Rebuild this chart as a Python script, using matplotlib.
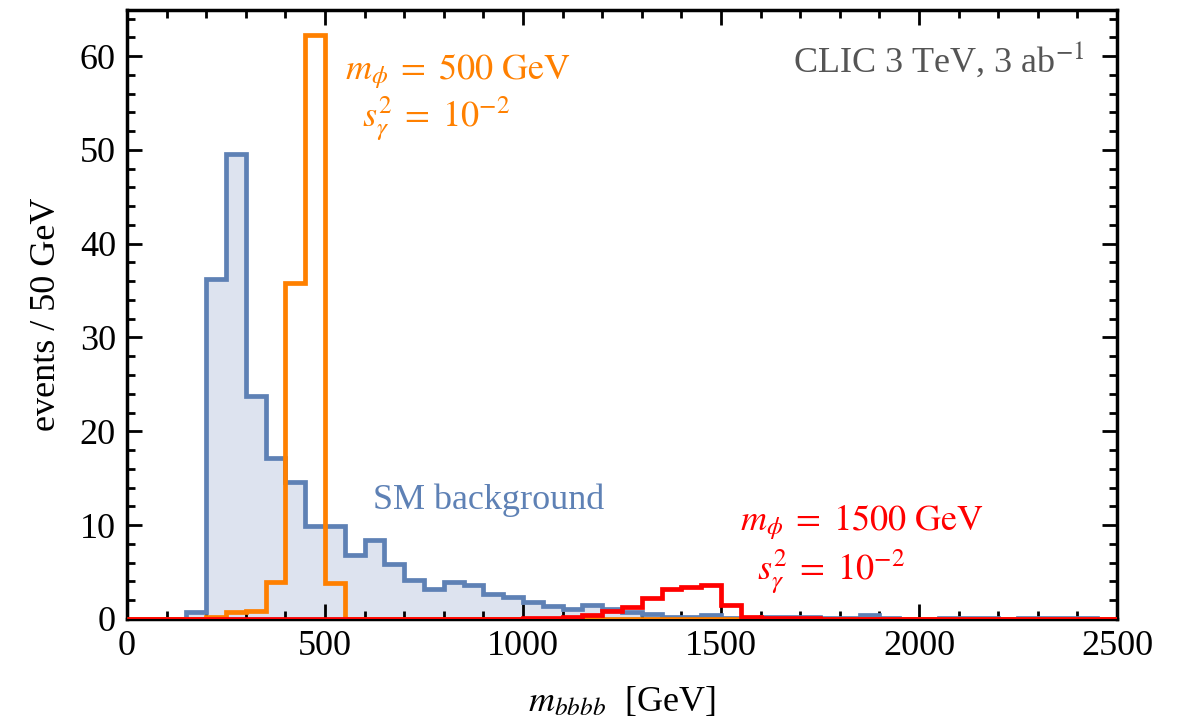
import numpy as np
import matplotlib
matplotlib.use("Agg")
import matplotlib.pyplot as plt
from matplotlib.ticker import MultipleLocator

plt.rcParams['font.family'] = ['Liberation Serif', 'DejaVu Serif']
plt.rcParams['mathtext.fontset'] = 'stix'

# 50 GeV bins from 0 to 2500 GeV
edges = np.arange(0, 2550, 50)

# SM background, events per bin
background = [0, 0, 0, 0.7, 36.2, 49.6, 23.8, 17.1, 14.6, 9.9,
              9.9, 6.8, 8.4, 5.8, 4.1, 3.2, 3.9, 3.6, 2.6, 2.3,
              1.8, 1.4, 1.1, 1.5, 1.1, 0.7, 0.5, 0.25, 0.25, 0.45,
              0.05, 0.05, 0.2, 0.15, 0.2, 0.1, 0.05, 0.4, 0.05, 0.0,
              0.0, 0.1, 0.1, 0.1, 0.0, 0.1, 0.1, 0.1, 0.1, 0.0]

# signal, m_phi = 500 GeV
signal_500 = [0, 0, 0, 0, 0.25, 0.7, 0.8, 3.9, 35.8, 62.3,
              3.8, 0, 0, 0, 0, 0, 0, 0, 0, 0,
              0, 0, 0, 0, 0, 0, 0, 0, 0, 0,
              0, 0, 0, 0, 0, 0, 0, 0, 0, 0,
              0, 0, 0, 0, 0, 0, 0, 0, 0, 0]

# signal, m_phi = 1500 GeV
signal_1500 = [0, 0, 0, 0, 0, 0, 0, 0, 0, 0,
               0, 0, 0, 0, 0, 0, 0, 0, 0, 0,
               0.05, 0.1, 0.2, 0.4, 0.8, 1.25, 2.2, 3.2, 3.45, 3.6,
               1.45, 0.25, 0.1, 0.1, 0.05, 0, 0, 0, 0, 0,
               0, 0, 0, 0, 0, 0, 0, 0, 0, 0]

blue = '#5e81b5'
orange = '#ff8000'
red = '#ff0000'

fig = plt.figure(figsize=(11.87, 7.23), dpi=100)
ax = fig.add_axes([0.107, 0.144, 0.834, 0.842])

ax.stairs(background, edges, fill=True, color='#dde3ef', zorder=1)
ax.stairs(background, edges, color=blue, lw=3.4, zorder=2)
ax.stairs(signal_500, edges, color=orange, lw=3.4, zorder=3)
ax.stairs(signal_1500, edges, color=red, lw=3.4, zorder=4)

ax.set_xlim(0, 2500)
ax.set_ylim(0, 64.9)

ax.xaxis.set_major_locator(MultipleLocator(500))
ax.xaxis.set_minor_locator(MultipleLocator(100))
ax.yaxis.set_major_locator(MultipleLocator(10))
ax.yaxis.set_minor_locator(MultipleLocator(2))
ax.tick_params(which='both', direction='in', top=True, right=True,
               width=2, labelsize=26, pad=8)
ax.tick_params(which='major', length=11)
ax.tick_params(which='minor', length=6)
for s in ax.spines.values():
    s.set_linewidth(2.5)

ax.set_xlabel(r'$m_{bbbb}$  [GeV]', fontsize=26, labelpad=16)
ax.set_ylabel('events / 50 GeV', fontsize=26, labelpad=12)

ax.text(2419, 59.6, r'CLIC 3 TeV, 3 ab$^{-1}$', color='#555555',
        fontsize=26, ha='right', va='center')
ax.text(550, 58.4, r'$m_\phi \;=\; \mathrm{500\ GeV}$', color=orange, fontsize=26, va='center')
ax.text(593, 53.3, r'$s_\gamma^2 \;=\; 10^{-2}$', color=orange, fontsize=26, va='center')
ax.text(621, 12.7, 'SM background', color=blue, fontsize=26, va='center')
ax.text(1548, 10.3, r'$m_\phi \;=\; \mathrm{1500\ GeV}$', color=red, fontsize=26, va='center')
ax.text(1591, 5.1, r'$s_\gamma^2 \;=\; 10^{-2}$', color=red, fontsize=26, va='center')

fig.savefig('out.png', dpi=100)
